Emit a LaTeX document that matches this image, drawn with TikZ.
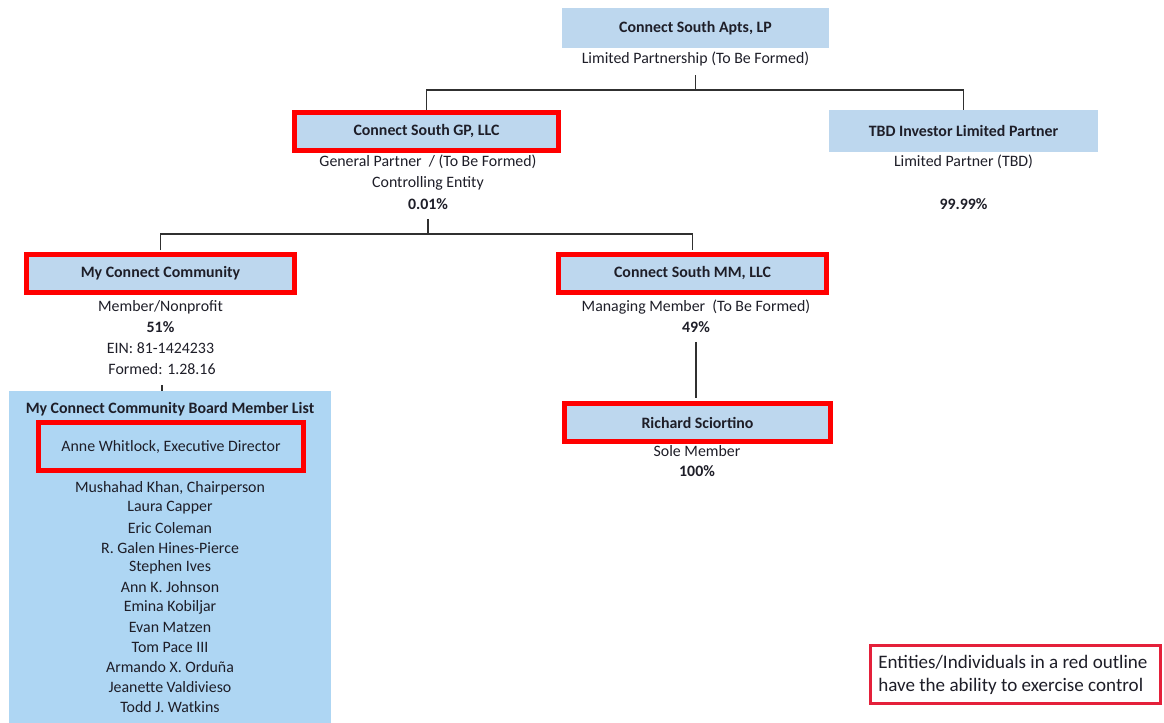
\documentclass[tikz,border=0pt]{standalone}
\usepackage{fontspec}
\setmainfont{Carlito}
\definecolor{boxblue}{HTML}{BDD7EE}
\definecolor{listblue}{HTML}{AED6F3}
\definecolor{ctlred}{HTML}{FF0000}
\definecolor{keyred}{HTML}{E4203A}
\definecolor{txt}{HTML}{1E1E28}
\definecolor{wire}{HTML}{303030}
\tikzset{
  ent/.style 2 args={fill=boxblue, minimum width=#1*0.75pt, minimum height=#2*0.75pt,
    inner sep=0pt, font=\fontsize{11.9}{14}\selectfont\bfseries, text=txt},
  ctl/.style={draw=ctlred, line width=3.75pt},
  lbl/.style={inner sep=0pt, text=txt, font=\fontsize{11.9}{14}\selectfont},
  pct/.style={lbl, font=\fontsize{11.9}{14}\selectfont\bfseries},
  wirestyle/.style={draw=wire, line width=0.8pt},
}
\begin{document}
\begin{tikzpicture}[x=0.75pt, y=-0.75pt]
\useasboundingbox (0,0) rectangle (1164,723);

% top-level partnership
\node[ent={267}{40}] (apts) at (695.5,28) {Connect South Apts, LP};
\node[lbl] (aptsA) at (695.5,59) {Limited Partnership (To Be Formed)};

% general partner and limited partner
\node[ent={264}{38}, ctl] (gp) at (426.5,131.5) {Connect South GP, LLC};
\node[lbl] (gpA) at (428,162) {General Partner\ \ / (To Be Formed)};
\node[lbl] (gpB) at (428,183) {Controlling Entity};
\node[pct] (gpC) at (428,204) {0.01\%};

\node[ent={269}{42}] (lp) at (963.5,131) {TBD Investor Limited Partner};
\node[lbl] (lpA) at (963.5,162) {Limited Partner (TBD)};
\node[pct] (lpB) at (963.5,204) {99.99\%};

% members of the general partner
\node[ent={268}{38}, ctl] (mcc) at (160.5,273.5) {My Connect Community};
\node[lbl] (mccA) at (160.5,307) {Member/Nonprofit};
\node[pct] (mccB) at (160.5,327) {51\%};
\node[lbl] (mccC) at (160.5,348) {EIN: 81-1424233};
\node[lbl] (mccD) at (162,369) {Formed: 1.28.16};

\node[ent={268}{38}, ctl] (mm) at (692.5,273.5) {Connect South MM, LLC};
\node[lbl] (mmA) at (696,307) {Managing Member\ \ (To Be Formed)};
\node[pct] (mmB) at (696,327) {49\%};

\node[ent={266}{38}, ctl] (rs) at (697.5,422.5) {Richard Sciortino};
\node[lbl] (rsA) at (697,451) {Sole Member};
\node[pct] (rsB) at (697,471) {100\%};

% board member list
\node[fill=listblue, minimum width=322*0.75pt, minimum height=332*0.75pt, inner sep=0pt] (board) at (170,557) {};
\node[pct] (boardT) at (170,409) {My Connect Community Board Member List};
\node[lbl, ctl, minimum width=265*0.75pt, minimum height=48*0.75pt] (anne) at (171,447) {Anne Whitlock, Executive Director};
\foreach \nm [count=\i from 0] in {{Mushahad Khan, Chairperson}, Laura Capper, Eric Coleman,
    R. Galen Hines-Pierce, Stephen Ives, Ann K. Johnson, Emina Kobiljar, Evan Matzen,
    Tom Pace III, Armando X. Orduña, Jeanette Valdivieso, Todd J. Watkins}
  \node[lbl] (mem\i) at (170,488+19.9*\i) {\nm};

% legend
\node[draw=keyred, line width=2.25pt, fill=white, minimum width=290*0.75pt, minimum height=58*0.75pt,
  inner sep=0pt] (key) at (1015.5,674.5) {};
\node[inner sep=0pt, anchor=west, align=left, text=txt, font=\fontsize{14.3}{17.3}\selectfont]
  (keyT) at (878,674.5) {Entities/Individuals in a red outline\\have the ability to exercise control};

% ownership connectors
\coordinate (busA) at (695.5,90);
\coordinate (busB) at (428,234);
\draw[wirestyle] (aptsA.south) ++(0,9) coordinate (a0) -- (a0 |- busA);
\draw[wirestyle] (gp.north) |- (busA) -| (lp.north);
\draw[wirestyle] (gpC.south) ++(0,9) coordinate (g0) -- (g0 |- busB);
\draw[wirestyle] (mcc.north) ++(0,-1.5) coordinate (m1) -- (m1 |- busB) -- (busB);
\draw[wirestyle] (busB) -| ([yshift=1.5*0.75pt]mm.north);
\draw[wirestyle] (mccD.south) ++(0,10) coordinate (c0) -- (board.north -| c0);
\draw[wirestyle] (mmB.south) ++(0,9) coordinate (r0) -- ([yshift=2.5*0.75pt]rs.north -| r0);
\end{tikzpicture}
\end{document}
